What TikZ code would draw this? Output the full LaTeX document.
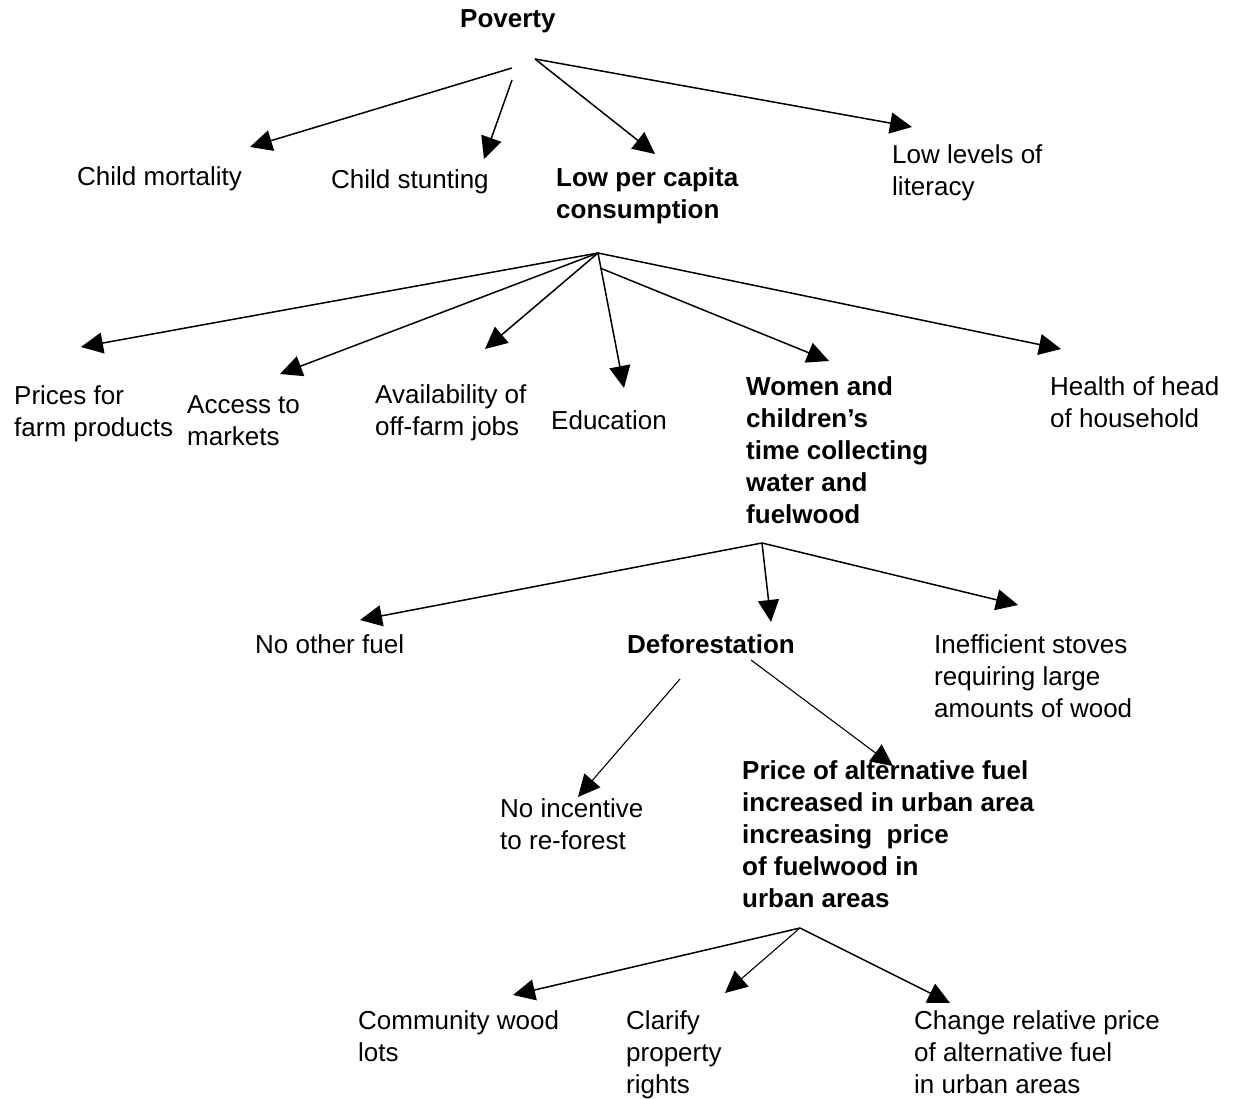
\documentclass[tikz,border=0pt]{standalone}
\usepackage{fontspec}
\setmainfont{Liberation Sans}
\usetikzlibrary{arrows.meta}
\newcommand{\diagFont}[0]{\fontsize{26}{32}\selectfont}

\begin{document}
\begin{tikzpicture}[x=1pt, y=-1pt, font=\diagFont]
  \tikzset{every node/.style={align=left,anchor=base west,inner sep=0pt},
           hd/.style={font=\diagFont\bfseries},
           arr/.style={line width=1.5pt,-{Triangle[length=22pt,width=21pt]}},
           thinarr/.style={arr,line width=1.1pt}}
  \useasboundingbox (0,0) rectangle (1234,1099);
  \node[hd](pov) at (460,28){Poverty};
  \node(cmort) at (77,186){Child mortality};
  \node(cstunt) at (331,189){Child stunting};
  \node[hd](lpc) at (556,219){Low per capita\\consumption};
  \node(lit) at (892,196){Low levels of\\literacy};
  \node(prices) at (14,436){Prices for\\farm products};
  \node(access) at (187,445){Access to\\markets};
  \node(jobs) at (375,435){Availability of\\off-farm jobs};
  \node(edu) at (551,429){Education};
  \node[hd](women) at (746,523){Women and\\children’s\\time collecting\\water and\\fuelwood};
  \node(health) at (1050,427){Health of head\\of household};
  \node(nofuel) at (255,653){No other fuel};
  \node[hd](defor) at (627,653){Deforestation};
  \node(stoves) at (934,717){Inefficient stoves\\requiring large\\amounts of wood};
  \node(noinc) at (500,849){No incentive\\to re-forest};
  \node[hd](altfuel) at (742,907){Price of alternative fuel\\increased in urban area\\increasing~ price\\of fuelwood in\\urban areas};
  \node(woodlots) at (358,1061){Community wood\\lots};
  \node(rights) at (626,1093){Clarify\\property\\rights};
  \node(relprice) at (914,1093){Change relative price\\of alternative fuel\\in urban areas};
  \coordinate(p1) at (512,68);
  \coordinate(p2) at (512,80);
  \coordinate(p3) at (535,59);
  \coordinate(cmortTip) at (250,147);
  \coordinate(cstuntTip) at (484,159);
  \coordinate(lpcTip) at (655,154);
  \coordinate(litTip) at (912,127);
  \coordinate(c1) at (598,253);
  \coordinate(c2) at (600,268);
  \coordinate(pricesTip) at (81,347);
  \coordinate(accessTip) at (280,374);
  \coordinate(jobsTip) at (485,349);
  \coordinate(eduTip) at (624,388);
  \coordinate(womenTip) at (829,361);
  \coordinate(healthTip) at (1061,349);
  \coordinate(w1) at (762,543);
  \coordinate(nofuelTip) at (360,620);
  \coordinate(deforTip) at (771,622);
  \coordinate(stovesTip) at (1018,605);
  \coordinate(d1) at (680,679);
  \coordinate(d2) at (751,660);
  \coordinate(noincTip) at (578,797);
  \coordinate(altfuelTip) at (893,766);
  \coordinate(q1) at (800,928);
  \coordinate(woodlotsTip) at (513,995);
  \coordinate(rightsTip) at (725,993);
  \coordinate(relpriceTip) at (950,1003);
  \draw[arr] (p1) -- (cmortTip);
  \draw[arr] (p2) -- (cstuntTip);
  \draw[arr] (p3) -- (lpcTip);
  \draw[arr] (p3) -- (litTip);
  \draw[arr] (c1) -- (pricesTip);
  \draw[arr] (c1) -- (accessTip);
  \draw[arr] (c1) -- (jobsTip);
  \draw[arr] (c1) -- (eduTip);
  \draw[arr] (c2) -- (womenTip);
  \draw[arr] (c1) -- (healthTip);
  \draw[arr] (w1) -- (nofuelTip);
  \draw[arr] (w1) -- (deforTip);
  \draw[arr] (w1) -- (stovesTip);
  \draw[thinarr] (d1) -- (noincTip);
  \draw[thinarr] (d2) -- (altfuelTip);
  \draw[arr] (q1) -- (woodlotsTip);
  \draw[thinarr] (q1) -- (rightsTip);
  \draw[arr] (q1) -- (relpriceTip);
\end{tikzpicture}
\end{document}
